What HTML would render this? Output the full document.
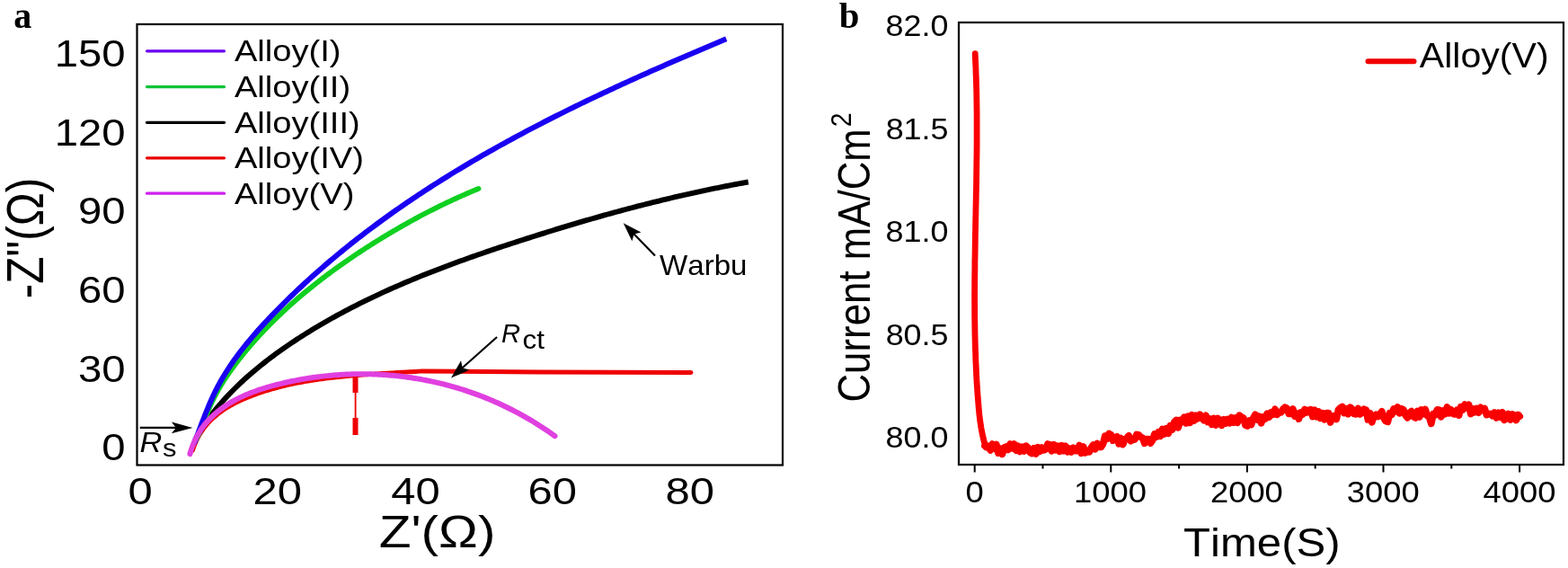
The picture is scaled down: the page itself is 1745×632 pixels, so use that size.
<!DOCTYPE html>
<html><head><meta charset="utf-8"><title>Figure</title>
<style>html,body{margin:0;padding:0;background:#fff;}svg text{font-kerning:none;}</style>
</head><body>
<svg width="1745" height="632" viewBox="0 0 1745 632" style="display:block">
<rect width="1745" height="632" fill="#fff"/>
<rect x="152.5" y="27" width="718.5" height="490.5" fill="none" stroke="#000" stroke-width="2.2"/>
<path d="M214.41,501.13 L215.24,498.61 L216.13,496.15 L217.08,493.76 L218.08,491.43 L219.15,489.17 L220.27,486.96 L221.45,484.81 L222.68,482.73 L223.96,480.69 L225.30,478.72 L226.68,476.80 L228.11,474.93 L229.59,473.11 L231.11,471.35 L232.68,469.63 L234.29,467.97 L235.94,466.35 L237.63,464.78 L239.37,463.25 L241.13,461.77 L242.94,460.33 L244.78,458.93 L246.65,457.57 L248.55,456.26 L250.49,454.98 L252.45,453.73 L254.45,452.53 L256.46,451.36 L258.51,450.22 L260.58,449.12 L262.67,448.04 L264.78,447.00 L266.91,445.99 L269.06,445.00 L271.22,444.04 L273.41,443.11 L275.60,442.20 L277.81,441.31 L280.03,440.45 L282.27,439.61 L284.51,438.79 L286.76,437.98 L289.02,437.20 L291.28,436.44 L293.56,435.69 L295.84,434.97 L298.14,434.26 L300.44,433.57 L302.75,432.90 L305.06,432.25 L307.39,431.62 L309.72,431.00 L312.05,430.40 L314.40,429.81 L316.74,429.24 L319.10,428.69 L321.46,428.15 L323.83,427.63 L326.20,427.12 L328.58,426.63 L330.96,426.15 L333.34,425.68 L335.73,425.23 L338.13,424.80 L340.53,424.37 L342.93,423.96 L345.34,423.56 L347.74,423.18 L350.16,422.80 L352.57,422.44 L354.99,422.09 L357.41,421.75 L359.83,421.42 L362.25,421.11 L364.67,420.80 L367.10,420.50 L369.53,420.21 L371.96,419.93 L374.38,419.66 L376.81,419.40 L379.24,419.15 L381.67,418.91 L384.10,418.67 L386.53,418.44 L388.95,418.22 L391.38,418.01 L393.80,417.80 L396.23,417.60 L398.65,417.40 L401.07,417.22 L403.49,417.03 L405.90,416.85 L408.31,416.68 L410.72,416.51 L413.13,416.35 L415.53,416.19 L417.93,416.03 L420.33,415.88 L422.72,415.73 L425.11,415.59 L427.49,415.44 L429.87,415.30 L432.24,415.16 L434.61,415.03 L436.97,414.89 L439.32,414.76 L441.68,414.62 L444.02,414.49 L446.36,414.36 L448.69,414.22 L451.01,414.09 L453.33,413.96 L455.64,413.82 L457.94,413.68 L460.24,413.55 L462.52,413.41 L464.80,413.27 L467.07,413.12 L469.33,412.98 L600,413.9 L769,414.6" fill="none" stroke="#ee0000" stroke-width="5" stroke-linecap="round" stroke-linejoin="round"/>
<path d="M217.01,489.68 L218.72,486.61 L220.48,483.58 L222.29,480.59 L224.14,477.63 L226.04,474.70 L227.98,471.81 L229.96,468.95 L231.99,466.12 L234.06,463.32 L236.17,460.56 L238.31,457.82 L240.49,455.11 L242.71,452.44 L244.96,449.79 L247.25,447.17 L249.56,444.57 L251.91,442.00 L254.29,439.46 L256.70,436.95 L259.13,434.46 L261.60,432.00 L264.09,429.56 L266.61,427.15 L269.15,424.76 L271.72,422.39 L274.31,420.05 L276.93,417.74 L279.57,415.44 L282.23,413.17 L284.92,410.93 L287.62,408.70 L290.35,406.50 L293.09,404.32 L295.85,402.16 L298.63,400.02 L301.43,397.90 L304.24,395.80 L307.07,393.73 L309.91,391.67 L312.77,389.63 L315.64,387.61 L318.53,385.61 L321.43,383.63 L324.33,381.67 L327.25,379.73 L330.18,377.80 L333.12,375.89 L336.06,374.00 L339.02,372.12 L341.98,370.26 L344.96,368.42 L347.94,366.60 L350.93,364.79 L353.93,363.00 L356.94,361.22 L359.96,359.46 L362.99,357.72 L366.02,355.99 L369.06,354.28 L372.11,352.58 L375.17,350.89 L378.24,349.23 L381.31,347.57 L384.39,345.93 L387.48,344.31 L390.58,342.70 L393.68,341.10 L396.79,339.52 L399.91,337.95 L403.03,336.40 L406.17,334.85 L409.30,333.33 L412.45,331.81 L415.60,330.31 L418.76,328.82 L421.92,327.34 L425.09,325.87 L428.27,324.42 L431.45,322.98 L434.64,321.55 L437.83,320.13 L441.03,318.73 L444.24,317.33 L447.45,315.95 L450.66,314.58 L453.88,313.21 L457.11,311.86 L460.34,310.52 L463.57,309.19 L466.81,307.87 L470.06,306.56 L473.30,305.26 L476.56,303.97 L479.82,302.69 L483.08,301.42 L486.34,300.15 L489.61,298.90 L492.89,297.65 L496.16,296.42 L499.44,295.19 L502.73,293.97 L506.01,292.75 L509.30,291.55 L512.60,290.35 L515.89,289.16 L519.19,287.98 L522.50,286.81 L525.80,285.64 L529.11,284.48 L532.42,283.33 L535.73,282.18 L539.05,281.04 L542.36,279.90 L545.68,278.77 L549.00,277.65 L552.33,276.53 L555.65,275.42 L558.98,274.32 L562.30,273.21 L565.63,272.12 L568.96,271.03 L572.29,269.94 L575.62,268.86 L578.96,267.78 L582.29,266.71 L585.62,265.64 L588.96,264.57 L592.29,263.51 L595.63,262.45 L598.97,261.40 L602.31,260.35 L605.65,259.31 L608.99,258.27 L612.33,257.23 L615.67,256.20 L619.01,255.18 L622.36,254.16 L625.70,253.14 L629.05,252.13 L632.40,251.13 L635.75,250.12 L639.10,249.13 L642.45,248.14 L645.80,247.15 L649.15,246.17 L652.51,245.20 L655.86,244.23 L659.22,243.26 L662.58,242.30 L665.94,241.35 L669.30,240.40 L672.66,239.46 L676.03,238.52 L679.39,237.59 L682.76,236.66 L686.13,235.74 L689.50,234.83 L692.87,233.92 L696.24,233.02 L699.62,232.13 L702.99,231.24 L706.37,230.35 L709.75,229.47 L713.13,228.60 L716.52,227.74 L719.90,226.88 L723.29,226.03 L726.68,225.18 L730.07,224.34 L733.46,223.51 L736.85,222.69 L740.25,221.87 L743.65,221.06 L747.05,220.25 L750.45,219.45 L753.86,218.66 L757.26,217.88 L760.67,217.10 L764.08,216.33 L767.49,215.57 L770.91,214.81 L774.32,214.06 L777.74,213.32 L781.16,212.59 L784.59,211.86 L788.01,211.14 L791.44,210.43 L794.87,209.73 L798.30,209.03 L801.74,208.34 L805.17,207.66 L808.61,206.99 L812.05,206.32 L815.50,205.67 L818.95,205.02 L822.39,204.38 L825.85,203.75 L829.30,203.12 L832.76,202.50" fill="none" stroke="#000" stroke-width="5.9" stroke-linecap="butt" stroke-linejoin="round"/>
<path d="M217.05,491.02 L218.14,489.13 L219.17,487.22 L220.17,485.28 L221.12,483.32 L222.03,481.34 L222.92,479.35 L223.78,477.33 L224.61,475.31 L225.43,473.27 L226.23,471.22 L227.01,469.17 L227.80,467.12 L228.57,465.06 L229.36,463.00 L230.14,460.95 L230.94,458.90 L231.75,456.86 L232.57,454.83 L233.42,452.81 L234.29,450.81 L235.19,448.82 L236.11,446.84 L237.05,444.88 L238.02,442.93 L239.01,440.99 L240.01,439.06 L241.04,437.15 L242.09,435.24 L243.16,433.35 L244.25,431.47 L245.35,429.60 L246.47,427.75 L247.61,425.90 L248.77,424.06 L249.95,422.24 L251.14,420.42 L252.34,418.61 L253.56,416.82 L254.79,415.03 L256.04,413.25 L257.30,411.48 L258.58,409.72 L259.86,407.97 L261.16,406.22 L262.47,404.49 L263.78,402.76 L265.11,401.04 L266.45,399.32 L267.80,397.62 L269.15,395.92 L270.52,394.22 L271.89,392.54 L273.27,390.86 L274.66,389.19 L276.06,387.52 L277.47,385.86 L278.88,384.21 L280.31,382.57 L281.74,380.93 L283.18,379.30 L284.63,377.67 L286.09,376.06 L287.55,374.45 L289.03,372.84 L290.51,371.24 L292.00,369.65 L293.49,368.07 L295.00,366.49 L296.51,364.92 L298.03,363.36 L299.55,361.80 L301.09,360.25 L302.63,358.70 L304.18,357.17 L305.73,355.63 L307.29,354.11 L308.86,352.59 L310.44,351.08 L312.02,349.57 L313.61,348.07 L315.20,346.58 L316.81,345.09 L318.42,343.61 L320.03,342.14 L321.65,340.67 L323.28,339.21 L324.91,337.75 L326.55,336.30 L328.20,334.86 L329.85,333.42 L331.51,331.99 L333.17,330.57 L334.84,329.15 L336.52,327.74 L338.20,326.33 L339.89,324.93 L341.58,323.53 L343.27,322.14 L344.98,320.76 L346.68,319.38 L348.40,318.01 L350.11,316.65 L351.84,315.29 L353.56,313.94 L355.30,312.59 L357.03,311.25 L358.77,309.91 L360.52,308.58 L362.27,307.25 L364.03,305.94 L365.79,304.62 L367.55,303.31 L369.32,302.01 L371.09,300.72 L372.87,299.42 L374.65,298.14 L376.43,296.86 L378.22,295.59 L380.01,294.32 L381.81,293.05 L383.61,291.80 L385.41,290.54 L387.22,289.30 L389.03,288.05 L390.84,286.82 L392.66,285.59 L394.47,284.36 L396.30,283.14 L398.12,281.93 L399.95,280.72 L401.78,279.51 L403.62,278.31 L405.45,277.12 L407.29,275.93 L409.14,274.75 L410.98,273.57 L412.83,272.39 L414.68,271.22 L416.53,270.06 L418.38,268.90 L420.24,267.75 L422.10,266.60 L423.96,265.46 L425.82,264.32 L427.68,263.18 L429.55,262.06 L431.42,260.93 L433.29,259.81 L435.16,258.70 L437.04,257.59 L438.92,256.49 L440.80,255.39 L442.68,254.30 L444.57,253.21 L446.45,252.13 L448.34,251.05 L450.24,249.98 L452.13,248.91 L454.03,247.85 L455.93,246.80 L457.83,245.75 L459.74,244.70 L461.65,243.66 L463.56,242.63 L465.48,241.60 L467.39,240.57 L469.32,239.55 L471.24,238.54 L473.17,237.53 L475.10,236.53 L477.03,235.53 L478.96,234.54 L480.90,233.56 L482.84,232.58 L484.79,231.60 L486.74,230.63 L488.69,229.67 L490.65,228.71 L492.60,227.76 L494.57,226.81 L496.53,225.87 L498.50,224.94 L500.47,224.01 L502.45,223.08 L504.43,222.17 L506.41,221.25 L508.40,220.35 L510.39,219.44 L512.38,218.55 L514.38,217.66 L516.38,216.78 L518.39,215.90 L520.40,215.03 L522.41,214.16 L524.43,213.30 L526.45,212.45 L528.47,211.60 L530.50,210.76 L532.53,209.92" fill="none" stroke="#10d020" stroke-width="5.8" stroke-linecap="round" stroke-linejoin="round"/>
<path d="M216.03,493.54 L217.42,489.95 L218.80,486.35 L220.16,482.74 L221.52,479.13 L222.88,475.52 L224.25,471.91 L225.62,468.31 L227.00,464.72 L228.41,461.14 L229.83,457.57 L231.28,454.01 L232.76,450.47 L234.28,446.95 L235.84,443.46 L237.44,439.98 L239.10,436.54 L240.80,433.13 L242.57,429.74 L244.39,426.39 L246.26,423.06 L248.18,419.77 L250.15,416.50 L252.17,413.26 L254.23,410.05 L256.34,406.86 L258.50,403.70 L260.69,400.57 L262.93,397.46 L265.21,394.37 L267.52,391.31 L269.87,388.27 L272.25,385.25 L274.67,382.26 L277.11,379.28 L279.59,376.33 L282.09,373.40 L284.63,370.48 L287.18,367.59 L289.76,364.72 L292.36,361.86 L294.99,359.02 L297.63,356.19 L300.29,353.39 L302.96,350.59 L305.65,347.82 L308.35,345.06 L311.07,342.31 L313.79,339.57 L316.53,336.85 L319.28,334.15 L322.03,331.45 L324.80,328.77 L327.58,326.11 L330.37,323.45 L333.18,320.81 L335.99,318.19 L338.81,315.57 L341.64,312.97 L344.49,310.39 L347.34,307.81 L350.21,305.25 L353.08,302.70 L355.97,300.17 L358.86,297.65 L361.77,295.14 L364.68,292.64 L367.61,290.15 L370.54,287.68 L373.48,285.22 L376.44,282.77 L379.40,280.34 L382.37,277.91 L385.35,275.50 L388.34,273.10 L391.34,270.71 L394.35,268.34 L397.37,265.97 L400.40,263.62 L403.43,261.28 L406.48,258.95 L409.53,256.63 L412.59,254.32 L415.66,252.03 L418.74,249.74 L421.83,247.47 L424.92,245.21 L428.02,242.96 L431.14,240.72 L434.26,238.49 L437.38,236.27 L440.52,234.06 L443.66,231.87 L446.81,229.68 L449.97,227.50 L453.14,225.34 L456.31,223.18 L459.49,221.04 L462.68,218.91 L465.87,216.78 L469.08,214.67 L472.29,212.56 L475.50,210.47 L478.73,208.38 L481.96,206.31 L485.19,204.25 L488.44,202.19 L491.69,200.14 L494.94,198.11 L498.21,196.08 L501.48,194.06 L504.75,192.06 L508.04,190.06 L511.32,188.07 L514.62,186.09 L517.92,184.12 L521.22,182.15 L524.54,180.20 L527.85,178.26 L531.18,176.32 L534.51,174.39 L537.84,172.47 L541.18,170.56 L544.52,168.66 L547.87,166.77 L551.23,164.88 L554.59,163.00 L557.96,161.14 L561.33,159.28 L564.70,157.42 L568.08,155.58 L571.47,153.74 L574.86,151.91 L578.25,150.09 L581.65,148.28 L585.05,146.47 L588.46,144.67 L591.87,142.88 L595.28,141.09 L598.70,139.32 L602.12,137.55 L605.55,135.78 L608.98,134.03 L612.42,132.28 L615.86,130.54 L619.30,128.80 L622.74,127.08 L626.19,125.36 L629.64,123.64 L633.10,121.93 L636.56,120.23 L640.02,118.54 L643.48,116.85 L646.95,115.16 L650.42,113.49 L653.89,111.82 L657.37,110.15 L660.85,108.49 L664.33,106.84 L667.81,105.20 L671.30,103.56 L674.79,101.92 L678.28,100.29 L681.77,98.67 L685.26,97.05 L688.76,95.44 L692.26,93.83 L695.76,92.23 L699.26,90.63 L702.76,89.04 L706.27,87.45 L709.77,85.87 L713.28,84.29 L716.79,82.72 L720.30,81.15 L723.81,79.59 L727.33,78.03 L730.84,76.47 L734.35,74.92 L737.87,73.38 L741.39,71.84 L744.90,70.30 L748.42,68.77 L751.94,67.24 L755.46,65.72 L758.98,64.20 L762.49,62.68 L766.01,61.17 L769.53,59.66 L773.05,58.16 L776.57,56.65 L780.09,55.16 L783.61,53.66 L787.13,52.17 L790.65,50.68 L794.17,49.20 L797.69,47.72 L801.20,46.24 L804.72,44.76 L808.24,43.29" fill="none" stroke="#1a00f2" stroke-width="6" stroke-linecap="butt" stroke-linejoin="round"/>
<path d="M211.42,505.13 L212.11,502.73 L212.85,500.38 L213.63,498.08 L214.47,495.82 L215.36,493.61 L216.29,491.45 L217.27,489.33 L218.29,487.25 L219.36,485.22 L220.47,483.24 L221.63,481.29 L222.82,479.39 L224.06,477.53 L225.34,475.71 L226.66,473.93 L228.02,472.19 L229.42,470.49 L230.85,468.83 L232.32,467.20 L233.83,465.62 L235.37,464.07 L236.95,462.56 L238.56,461.08 L240.20,459.64 L241.87,458.23 L243.58,456.86 L245.31,455.52 L247.07,454.22 L248.87,452.95 L250.69,451.71 L252.53,450.50 L254.40,449.32 L256.30,448.17 L258.22,447.05 L260.17,445.96 L262.14,444.90 L264.13,443.87 L266.14,442.87 L268.17,441.89 L270.22,440.94 L272.29,440.01 L274.38,439.11 L276.48,438.24 L278.60,437.38 L280.74,436.55 L282.89,435.75 L285.05,434.97 L287.23,434.20 L289.42,433.46 L291.62,432.74 L293.83,432.04 L296.05,431.36 L298.28,430.70 L300.52,430.06 L302.76,429.44 L305.02,428.83 L307.27,428.24 L309.53,427.66 L311.80,427.10 L314.07,426.56 L316.34,426.03 L318.61,425.51 L320.89,425.01 L323.16,424.52 L325.44,424.05 L327.72,423.59 L330.00,423.14 L332.28,422.71 L334.56,422.29 L336.85,421.89 L339.13,421.50 L341.42,421.12 L343.71,420.76 L345.99,420.41 L348.28,420.08 L350.57,419.76 L352.86,419.45 L355.15,419.16 L357.45,418.88 L359.74,418.61 L362.03,418.36 L364.32,418.13 L366.62,417.90 L368.91,417.69 L371.20,417.50 L373.50,417.32 L375.79,417.15 L378.09,417.00 L380.38,416.86 L382.67,416.73 L384.97,416.62 L387.26,416.52 L389.55,416.43 L391.85,416.36 L394.14,416.31 L396.43,416.26 L398.72,416.24 L401.01,416.22 L403.30,416.22 L405.59,416.23 L407.88,416.26 L410.16,416.30 L412.45,416.35 L414.73,416.42 L417.02,416.50 L419.30,416.60 L421.58,416.70 L423.86,416.83 L426.14,416.96 L428.42,417.11 L430.69,417.28 L432.97,417.46 L435.24,417.65 L437.51,417.85 L439.78,418.07 L442.05,418.30 L444.32,418.55 L446.58,418.81 L448.84,419.09 L451.10,419.37 L453.36,419.68 L455.61,419.99 L457.87,420.32 L460.12,420.66 L462.36,421.02 L464.61,421.39 L466.85,421.77 L469.09,422.17 L471.33,422.58 L473.57,423.01 L475.80,423.45 L478.03,423.90 L480.26,424.37 L482.48,424.85 L484.70,425.34 L486.92,425.85 L489.13,426.37 L491.34,426.90 L493.55,427.45 L495.76,428.01 L497.96,428.59 L500.15,429.18 L502.35,429.78 L504.54,430.40 L506.72,431.03 L508.91,431.67 L511.09,432.33 L513.26,433.00 L515.43,433.68 L517.60,434.38 L519.76,435.09 L521.92,435.82 L524.08,436.56 L526.23,437.31 L528.37,438.08 L530.51,438.86 L532.65,439.65 L534.78,440.46 L536.91,441.28 L539.03,442.11 L541.15,442.96 L543.27,443.82 L545.38,444.69 L547.48,445.58 L549.58,446.49 L551.67,447.40 L553.76,448.33 L555.85,449.27 L557.92,450.23 L560.00,451.20 L562.06,452.18 L564.13,453.18 L566.18,454.19 L568.23,455.21 L570.28,456.25 L572.32,457.30 L574.35,458.36 L576.38,459.44 L578.40,460.53 L580.42,461.64 L582.43,462.76 L584.43,463.89 L586.43,465.03 L588.42,466.19 L590.41,467.36 L592.39,468.55 L594.36,469.75 L596.33,470.96 L598.29,472.19 L600.24,473.43 L602.19,474.68 L604.13,475.95 L606.06,477.23 L607.98,478.52 L609.90,479.83 L611.82,481.15 L613.72,482.48 L615.62,483.83 L617.51,485.19" fill="none" stroke="#e040e0" stroke-width="6" stroke-linecap="round" stroke-linejoin="round"/>
<rect x="392.5" y="419" width="6" height="18" fill="#ee0000"/>
<rect x="394.7" y="436" width="1.8" height="30" fill="#ee0000"/>
<rect x="392.5" y="465" width="6" height="19" fill="#ee0000"/>
<line x1="163.5" y1="56.8" x2="249.5" y2="56.8" stroke="#6a00f0" stroke-width="3.2" stroke-linecap="round"/>
<line x1="163.5" y1="96.6" x2="249.5" y2="96.6" stroke="#08c238" stroke-width="3.2" stroke-linecap="round"/>
<line x1="163.5" y1="136.3" x2="249.5" y2="136.3" stroke="#000" stroke-width="3.2" stroke-linecap="round"/>
<line x1="163.5" y1="175.8" x2="249.5" y2="175.8" stroke="#e80000" stroke-width="3.2" stroke-linecap="round"/>
<line x1="163.5" y1="215.2" x2="249.5" y2="215.2" stroke="#d020f0" stroke-width="3.2" stroke-linecap="round"/>
<text transform="translate(260.93,68.20) scale(1.17,1)" font-family="'Liberation Sans', Arial, sans-serif" font-size="32.6">Alloy(I)</text>
<text transform="translate(260.93,108.00) scale(1.17,1)" font-family="'Liberation Sans', Arial, sans-serif" font-size="32.6">Alloy(II)</text>
<text transform="translate(260.93,147.70) scale(1.17,1)" font-family="'Liberation Sans', Arial, sans-serif" font-size="32.6">Alloy(III)</text>
<text transform="translate(260.93,187.20) scale(1.17,1)" font-family="'Liberation Sans', Arial, sans-serif" font-size="32.6">Alloy(IV)</text>
<text transform="translate(260.93,226.60) scale(1.17,1)" font-family="'Liberation Sans', Arial, sans-serif" font-size="32.6">Alloy(V)</text>
<text transform="translate(60.77,73.90) scale(1.1150,1)" font-family="'Liberation Sans', Arial, sans-serif"  font-size="42.40">150</text>
<text transform="translate(60.77,161.60) scale(1.1150,1)" font-family="'Liberation Sans', Arial, sans-serif"  font-size="42.40">120</text>
<text transform="translate(87.06,249.30) scale(1.1150,1)" font-family="'Liberation Sans', Arial, sans-serif"  font-size="42.40">90</text>
<text transform="translate(87.06,337.00) scale(1.1150,1)" font-family="'Liberation Sans', Arial, sans-serif"  font-size="42.40">60</text>
<text transform="translate(87.06,424.70) scale(1.1150,1)" font-family="'Liberation Sans', Arial, sans-serif"  font-size="42.40">30</text>
<text transform="translate(113.35,512.40) scale(1.1150,1)" font-family="'Liberation Sans', Arial, sans-serif"  font-size="42.40">0</text>
<text transform="translate(142.57,561.30) scale(1.1450,1)" font-family="'Liberation Sans', Arial, sans-serif"  font-size="42.80">0</text>
<text transform="translate(281.57,561.30) scale(1.1450,1)" font-family="'Liberation Sans', Arial, sans-serif"  font-size="42.80">20</text>
<text transform="translate(435.14,561.30) scale(1.1450,1)" font-family="'Liberation Sans', Arial, sans-serif"  font-size="42.80">40</text>
<text transform="translate(587.46,561.30) scale(1.1450,1)" font-family="'Liberation Sans', Arial, sans-serif"  font-size="42.80">60</text>
<text transform="translate(740.54,561.30) scale(1.1450,1)" font-family="'Liberation Sans', Arial, sans-serif"  font-size="42.80">80</text>
<text transform="translate(421.64,608.60) scale(1.1836,1)" font-family="'Liberation Sans', Arial, sans-serif"  font-size="49.50" fill="#000">Z'(Ω)</text>
<text transform="translate(47.50,332.20) rotate(-90) scale(1.0003,1.1500)" font-family="'Liberation Sans', Arial, sans-serif"  font-size="49.60">-Z&quot;(Ω)</text>
<text transform="translate(734.05,306.30) scale(1.0777,1)" font-family="'Liberation Sans', Arial, sans-serif"  font-size="30.70" fill="#000">Warbu</text>
<line x1="729" y1="284.4" x2="704.19" y2="259.02" stroke="#000" stroke-width="2.2"/>
<path d="M693.70,248.30 L713.39,258.42 L705.59,260.45 L703.38,268.21 Z" fill="#000"/>
<text transform="translate(558.00,381.00) scale(0.9903,1)" font-family="'Liberation Sans', Arial, sans-serif" font-style='italic' font-size="29.50" fill="#000">R</text>
<text transform="translate(581.57,388.00) scale(1.0799,1)" font-family="'Liberation Sans', Arial, sans-serif"  font-size="29.00" fill="#000">ct</text>
<line x1="553.1" y1="375" x2="513.20" y2="410.53" stroke="#000" stroke-width="2.2"/>
<path d="M502.00,420.50 L513.03,401.31 L514.70,409.20 L522.34,411.76 Z" fill="#000"/>
<text transform="translate(155.44,503.10) scale(1.1084,1)" font-family="'Liberation Sans', Arial, sans-serif" font-style='italic' font-size="31.00" fill="#000">R</text>
<text transform="translate(180.94,508.30) scale(1.1258,1)" font-family="'Liberation Sans', Arial, sans-serif"  font-size="27.50" fill="#000">s</text>
<line x1="155.7" y1="475.9" x2="197.90" y2="475.90" stroke="#000" stroke-width="2.2"/>
<path d="M214.40,475.90 L190.90,482.20 L195.90,475.90 L190.90,469.60 Z" fill="#000"/>
<text transform="translate(15.31,30.60) scale(0.9409,1)" font-family="'Liberation Serif', 'Times New Roman', serif" font-weight='bold' font-size="42.50" fill="#000">a</text>
<rect x="1067" y="25" width="673" height="492" fill="none" stroke="#000" stroke-width="2.2"/>
<line x1="1084.7" y1="517" x2="1084.7" y2="525.5" stroke="#000" stroke-width="2"/>
<line x1="1160.5" y1="517" x2="1160.5" y2="521.5" stroke="#000" stroke-width="2"/>
<line x1="1236.3" y1="517" x2="1236.3" y2="525.5" stroke="#000" stroke-width="2"/>
<line x1="1312.1" y1="517" x2="1312.1" y2="521.5" stroke="#000" stroke-width="2"/>
<line x1="1387.9" y1="517" x2="1387.9" y2="525.5" stroke="#000" stroke-width="2"/>
<line x1="1463.7" y1="517" x2="1463.7" y2="521.5" stroke="#000" stroke-width="2"/>
<line x1="1539.5" y1="517" x2="1539.5" y2="525.5" stroke="#000" stroke-width="2"/>
<line x1="1615.3" y1="517" x2="1615.3" y2="521.5" stroke="#000" stroke-width="2"/>
<line x1="1691.1" y1="517" x2="1691.1" y2="525.5" stroke="#000" stroke-width="2"/>
<text transform="translate(1074.38,558.60) scale(1.0831,1)" font-family="'Liberation Sans', Arial, sans-serif"  font-size="33.60">0</text>
<text transform="translate(1194.95,558.60) scale(1.0831,1)" font-family="'Liberation Sans', Arial, sans-serif"  font-size="33.60">1000</text>
<text transform="translate(1346.92,558.60) scale(1.0831,1)" font-family="'Liberation Sans', Arial, sans-serif"  font-size="33.60">2000</text>
<text transform="translate(1498.74,558.60) scale(1.0831,1)" font-family="'Liberation Sans', Arial, sans-serif"  font-size="33.60">3000</text>
<text transform="translate(1650.56,558.60) scale(1.0831,1)" font-family="'Liberation Sans', Arial, sans-serif"  font-size="33.60">4000</text>
<text transform="translate(985.54,40.00) scale(1.0636,1)" font-family="'Liberation Sans', Arial, sans-serif"  font-size="33.80">82.0</text>
<text transform="translate(985.64,154.60) scale(1.0636,1)" font-family="'Liberation Sans', Arial, sans-serif"  font-size="33.80">81.5</text>
<text transform="translate(985.54,269.20) scale(1.0636,1)" font-family="'Liberation Sans', Arial, sans-serif"  font-size="33.80">81.0</text>
<text transform="translate(985.64,383.80) scale(1.0636,1)" font-family="'Liberation Sans', Arial, sans-serif"  font-size="33.80">80.5</text>
<text transform="translate(985.54,498.40) scale(1.0636,1)" font-family="'Liberation Sans', Arial, sans-serif"  font-size="33.80">80.0</text>
<text transform="translate(1317.10,618.80) scale(1.0838,1)" font-family="'Liberation Sans', Arial, sans-serif"  font-size="45.30" fill="#000">Time(S)</text>
<text transform="translate(968.20,447.53) rotate(-90) scale(1.0007,1.1400)" font-family="'Liberation Sans', Arial, sans-serif"  font-size="43.80">Current mA/Cm</text>
<text transform="translate(947.2,141.2) rotate(-90) scale(1,1.12)" font-family="'Liberation Sans', Arial, sans-serif" font-size="28.5">2</text>
<line x1="1522.5" y1="68.2" x2="1573.5" y2="68.2" stroke="#f00000" stroke-width="6" stroke-linecap="round"/>
<text transform="translate(1579.82,75.10) scale(1.0756,1)" font-family="'Liberation Sans', Arial, sans-serif"  font-size="38.20" fill="#000">Alloy(V)</text>
<text transform="translate(933.68,30.60) scale(1.0064,1)" font-family="'Liberation Serif', 'Times New Roman', serif" font-weight='bold' font-size="40.50" fill="#000">b</text>
<path d="M1085.2,59.6 L1085.5,67.0 L1085.9,74.4 L1086.1,81.8 L1086.4,89.3 L1086.6,96.7 L1086.8,104.1 L1086.9,111.6 L1087.0,119.0 L1087.1,126.4 L1087.1,133.9 L1087.1,141.3 L1087.1,148.8 L1087.1,156.2 L1087.1,163.6 L1087.0,171.1 L1086.9,178.5 L1086.8,186.0 L1086.7,193.5 L1086.6,200.9 L1086.5,208.4 L1086.3,215.8 L1086.2,223.3 L1086.0,230.7 L1085.9,238.2 L1085.7,245.7 L1085.6,253.1 L1085.4,260.6 L1085.3,268.0 L1085.2,275.5 L1085.1,283.0 L1084.9,290.4 L1084.9,297.9 L1084.8,305.3 L1084.7,312.8 L1084.7,320.2 L1084.6,327.7 L1084.6,335.1 L1084.7,342.6 L1084.7,350.0 L1084.8,357.5 L1084.9,364.9 L1085.0,372.4 L1085.2,379.8 L1085.4,387.3 L1085.7,394.7 L1085.9,402.1 L1086.3,409.5 L1086.6,417.0 L1087.0,424.4 L1087.5,431.8 L1088.0,439.2 L1088.6,446.6 L1089.2,454.0 L1089.9,461.4 L1090.8,468.8 L1091.9,476.1 L1093.3,483.4 L1095.0,490.6 L1097.2,497.7" fill="none" stroke="#fa0000" stroke-width="6.8" stroke-linecap="round" stroke-linejoin="round"/>
<path d="M1096.0,496.0 L1098.0,497.5 L1100.0,496.4 L1102.2,500.9 L1104.4,494.1 L1106.6,499.1 L1108.8,494.5 L1111.0,504.1 L1113.2,499.1 L1115.4,505.3 L1117.6,498.1 L1119.8,497.0 L1122.0,500.3 L1124.2,494.1 L1126.4,498.8 L1128.6,494.0 L1130.8,501.2 L1133.0,496.3 L1135.2,502.4 L1137.4,497.2 L1139.6,501.9 L1141.8,496.2 L1144.0,498.0 L1146.2,503.3 L1148.4,504.4 L1150.6,498.7 L1152.8,505.1 L1155.0,497.7 L1157.2,502.2 L1159.4,498.1 L1161.6,500.8 L1163.8,499.9 L1166.0,494.1 L1168.2,494.8 L1170.4,501.8 L1172.6,494.8 L1174.8,500.7 L1177.0,496.3 L1179.2,502.3 L1181.4,495.8 L1183.6,501.6 L1185.8,496.3 L1188.0,502.7 L1190.2,499.0 L1192.4,502.9 L1194.6,498.4 L1196.8,501.5 L1199.0,501.7 L1201.2,495.6 L1203.4,504.3 L1205.6,497.0 L1207.8,503.9 L1210.0,502.4 L1212.2,502.9 L1214.4,498.1 L1216.6,495.2 L1218.8,499.7 L1221.0,493.5 L1223.2,497.4 L1225.4,497.3 L1227.6,493.9 L1229.8,485.1 L1232.0,488.2 L1234.2,482.5 L1236.4,483.9 L1238.6,490.1 L1240.8,487.2 L1243.0,485.8 L1245.2,493.8 L1247.4,487.6 L1249.6,494.5 L1251.8,489.3 L1254.0,487.4 L1256.2,484.9 L1258.4,490.6 L1260.6,489.4 L1262.8,489.0 L1265.0,483.5 L1267.2,483.9 L1269.4,486.3 L1271.6,487.1 L1273.8,493.2 L1276.0,488.6 L1278.2,488.7 L1280.4,493.1 L1282.6,489.9 L1284.8,483.1 L1287.0,486.1 L1289.2,480.8 L1291.4,485.2 L1293.6,477.5 L1295.8,483.0 L1298.0,476.7 L1300.2,482.3 L1302.4,473.7 L1304.6,478.1 L1306.8,469.8 L1309.0,467.6 L1311.2,475.8 L1313.4,467.5 L1315.6,469.6 L1317.8,464.2 L1320.0,470.9 L1322.2,463.2 L1324.4,470.3 L1326.6,461.7 L1328.8,468.1 L1331.0,462.4 L1333.2,465.6 L1335.4,461.3 L1337.6,464.6 L1339.8,467.6 L1342.0,462.4 L1344.2,469.5 L1346.4,466.1 L1348.6,472.3 L1350.8,465.4 L1353.0,473.0 L1355.2,465.4 L1357.4,468.2 L1359.6,473.3 L1361.8,466.7 L1364.0,471.0 L1366.2,466.6 L1368.4,470.7 L1370.6,464.6 L1372.8,470.1 L1375.0,465.0 L1377.2,470.3 L1379.4,462.3 L1381.6,464.1 L1383.8,465.0 L1386.0,473.1 L1388.2,473.9 L1390.4,468.0 L1392.6,472.4 L1394.8,465.1 L1397.0,461.3 L1399.2,466.9 L1401.4,463.3 L1403.6,470.8 L1405.8,463.9 L1408.0,466.0 L1410.2,460.2 L1412.4,464.2 L1414.6,458.9 L1416.8,461.0 L1419.0,455.4 L1421.2,461.3 L1423.4,459.1 L1425.6,458.9 L1427.8,455.3 L1430.0,453.2 L1432.2,454.2 L1434.4,460.4 L1436.6,460.4 L1438.8,455.0 L1441.0,463.1 L1443.2,460.0 L1445.4,466.1 L1447.6,459.1 L1449.8,460.8 L1452.0,455.5 L1454.2,458.8 L1456.4,456.4 L1458.6,455.7 L1460.8,463.5 L1463.0,456.2 L1465.2,463.8 L1467.4,457.9 L1469.6,465.3 L1471.8,459.7 L1474.0,466.8 L1476.2,459.7 L1478.4,459.7 L1480.6,469.9 L1482.8,462.8 L1485.0,462.9 L1487.2,466.4 L1489.4,456.2 L1491.6,453.8 L1493.8,452.5 L1496.0,459.5 L1498.2,454.8 L1500.4,460.6 L1502.6,453.2 L1504.8,455.2 L1507.0,460.5 L1509.2,460.8 L1511.4,454.5 L1513.6,460.9 L1515.8,458.8 L1518.0,455.3 L1520.2,456.1 L1522.4,466.9 L1524.6,459.8 L1526.8,469.7 L1529.0,462.9 L1531.2,461.3 L1533.4,463.4 L1535.6,461.2 L1537.8,457.8 L1540.0,465.1 L1542.2,468.6 L1544.4,469.3 L1546.6,459.7 L1548.8,461.4 L1551.0,455.0 L1553.2,457.7 L1555.4,453.0 L1557.6,459.8 L1559.8,454.9 L1562.0,456.0 L1564.2,462.1 L1566.4,464.8 L1568.6,459.3 L1570.8,457.7 L1573.0,463.7 L1575.2,464.9 L1577.4,457.6 L1579.6,464.0 L1581.8,455.9 L1584.0,460.4 L1586.2,455.6 L1588.4,462.6 L1590.6,463.8 L1592.8,471.3 L1595.0,460.7 L1597.2,461.8 L1599.4,455.9 L1601.6,456.2 L1603.8,463.8 L1606.0,457.1 L1608.2,460.6 L1610.4,453.0 L1612.6,459.7 L1614.8,455.9 L1617.0,460.3 L1619.2,460.9 L1621.4,456.4 L1623.6,462.0 L1625.8,452.6 L1628.0,456.0 L1630.2,450.1 L1632.4,453.7 L1634.6,450.4 L1636.8,460.5 L1639.0,454.9 L1641.2,458.7 L1643.4,454.5 L1645.6,459.1 L1647.8,453.4 L1650.0,456.1 L1652.2,454.6 L1654.4,461.5 L1656.6,460.8 L1658.8,460.5 L1661.0,462.6 L1663.2,459.0 L1665.4,464.9 L1667.6,459.4 L1669.8,464.1 L1672.0,458.9 L1674.2,467.3 L1676.4,464.7 L1678.6,460.6 L1680.8,467.1 L1683.0,460.9 L1685.2,462.0 L1687.4,467.5 L1689.6,461.6 L1691.2,463.2" fill="none" stroke="#fa0000" stroke-width="7.8" stroke-linecap="round" stroke-linejoin="round"/>
</svg>
</body></html>
